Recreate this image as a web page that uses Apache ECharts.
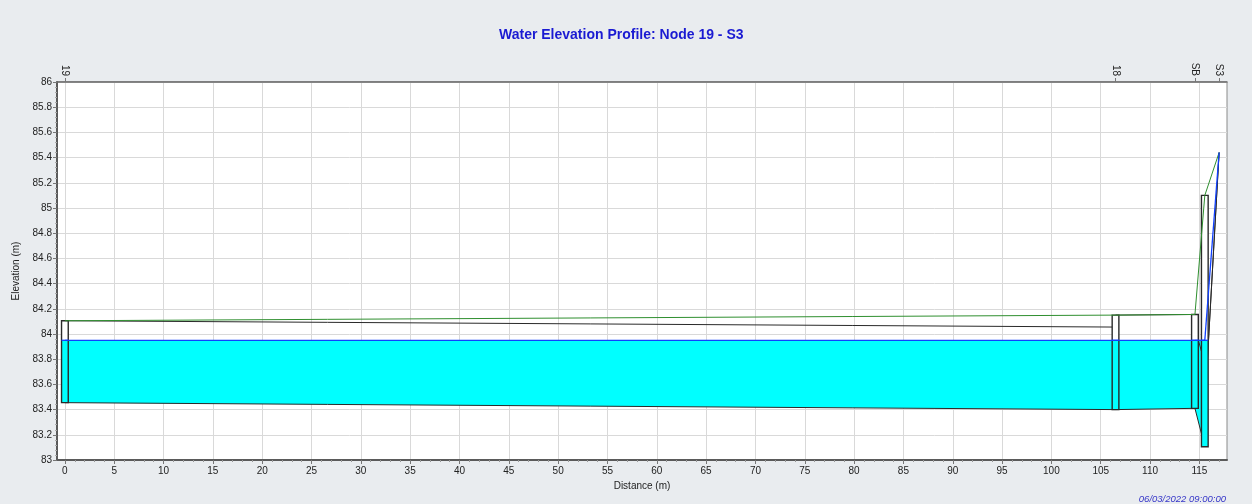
<!DOCTYPE html>
<html>
<head>
<meta charset="utf-8">
<script src="https://cdn.jsdelivr.net/npm/echarts@6/dist/echarts.min.js"></script>
<style>
html, body { margin: 0; padding: 0; background: #e9ecef; }
#chart { width: 1252px; height: 504px; }
</style>
</head>
<body>
<div id="chart"></div>
<script>
// ---------- data ----------
const nodeNames = ['19', '18', 'SB', 'S3'];
const nodeDistance = [0, 106.5, 114.55, 117.0];
const xTicks = [0, 5, 10, 15, 20, 25, 30, 35, 40, 45, 50, 55, 60, 65, 70, 75, 80, 85, 90, 95, 100, 105, 110, 115];

// node boxes (distance, invert, rim, water level)
const boxDistance = [0, 106.5, 114.55, 115.55];
const boxInvert = [83.455, 83.40, 83.41, 83.105];
const boxTop = [84.105, 84.15, 84.155, 85.10];
const boxWater = [83.95, 83.95, 83.95, 83.95];

// links between consecutive boxes / nodes
const linkFrom = [0, 106.5, 114.55, 115.55];
const linkTo = [106.5, 114.55, 115.55, 117.0];
const linkUpInvert = [83.455, 83.40, 83.41, 83.43];
const linkDnInvert = [83.40, 83.41, 83.105, 85.44];
const linkUpCrown = [84.105, 84.15, 84.05, 83.43];
const linkDnCrown = [84.055, 84.155, 83.765, 85.44];
const linkUpWater = [83.95, 83.95, 83.95, 83.95];
const linkDnWater = [83.95, 83.95, 83.95, 85.44];

// ground (rim) line
const groundDistance = [0, 106.5, 114.55, 115.55, 117.0];
const groundElevation = [84.105, 84.15, 84.155, 85.10, 85.44];

// ---------- styles ----------
const FONT = "'Liberation Sans', Arial, sans-serif";
const BOX_HALF = 0.34;
const CYAN = '#00ffff';
const WATER_LINE = '#1040ff';
const EDGE = '#2a2a2a';

const linkData = linkFrom.map((v, i) => [linkFrom[i], linkTo[i], linkUpWater[i], linkDnWater[i], linkUpInvert[i], linkDnInvert[i], linkUpCrown[i], linkDnCrown[i]]);
const boxData = boxDistance.map((v, i) => [boxDistance[i], boxInvert[i], boxTop[i], boxWater[i]]);
const groundData = groundDistance.map((v, i) => [groundDistance[i], groundElevation[i]]);

function renderWater(params, api) {
  const x1 = api.value(0), x2 = api.value(1);
  const uw = api.value(2), dw = api.value(3), ui = api.value(4), di = api.value(5);
  if (!(uw > ui && dw > di)) return null;
  return {
    type: 'polygon',
    shape: { points: [api.coord([x1, uw]), api.coord([x2, dw]), api.coord([x2, di]), api.coord([x1, ui])] },
    style: { fill: CYAN }
  };
}
function renderLinkLines(params, api) {
  const x1 = api.value(0), x2 = api.value(1);
  const ui = api.value(4), di = api.value(5), uc = api.value(6), dc = api.value(7);
  const a = api.coord([x1, ui]), b = api.coord([x2, di]);
  const c = api.coord([x1, uc]), d = api.coord([x2, dc]);
  return {
    type: 'group',
    children: [
      { type: 'line', shape: { x1: a[0], y1: a[1], x2: b[0], y2: b[1] }, style: { stroke: EDGE, lineWidth: 1 } },
      { type: 'line', shape: { x1: c[0], y1: c[1], x2: d[0], y2: d[1] }, style: { stroke: EDGE, lineWidth: 1 } }
    ]
  };
}
function renderWaterLine(params, api) {
  const x1 = api.value(0), x2 = api.value(1);
  const uw = api.value(2), dw = api.value(3);
  const a = api.coord([x1, uw]), b = api.coord([x2, dw]);
  return { type: 'line', shape: { x1: a[0], y1: a[1], x2: b[0], y2: b[1] }, style: { stroke: WATER_LINE, lineWidth: 1.3 } };
}
function renderBox(params, api) {
  const x = api.value(0), inv = api.value(1), top = api.value(2), w = api.value(3);
  const tl = api.coord([x - BOX_HALF, top]);
  const br = api.coord([x + BOX_HALF, inv]);
  const wl = api.coord([x, w]);
  const width = br[0] - tl[0];
  return {
    type: 'group',
    children: [
      { type: 'rect', shape: { x: tl[0], y: tl[1], width: width, height: wl[1] - tl[1] }, style: { fill: '#ffffff' } },
      { type: 'rect', shape: { x: tl[0], y: wl[1], width: width, height: br[1] - wl[1] }, style: { fill: CYAN } },
      { type: 'rect', shape: { x: tl[0], y: tl[1], width: width, height: br[1] - tl[1] }, style: { fill: 'none', stroke: EDGE, lineWidth: 1.4 } },
      { type: 'line', z2: 10, shape: { x1: tl[0], y1: wl[1], x2: br[0], y2: wl[1] }, style: { stroke: WATER_LINE, lineWidth: 1.3 } }
    ]
  };
}

const chart = echarts.init(document.getElementById('chart'), null, { renderer: 'canvas' });
chart.setOption({
  animation: false,
  backgroundColor: '#e9ecef',
  textStyle: { fontFamily: FONT },
  title: [
    {
      text: 'Water Elevation Profile: Node 19 - S3',
      left: 499, top: 28, padding: 0,
      textStyle: { fontFamily: FONT, fontSize: 14, fontWeight: 'bold', color: '#1a1ad2' }
    },
    {
      text: '06/03/2022 09:00:00',
      right: 26, top: 494, padding: 0,
      textStyle: { fontFamily: FONT, fontSize: 9.5, fontWeight: 'normal', fontStyle: 'italic', color: '#3535c8' }
    }
  ],
  grid: {
    left: 57, right: 25, top: 82, bottom: 44,
    show: true, backgroundColor: '#ffffff', borderColor: '#8a8a8a', borderWidth: 1
  },
  xAxis: [
    {
      type: 'value', position: 'bottom', min: -0.8, max: 117.8, splitNumber: 24,
      name: 'Distance (m)', nameLocation: 'middle', nameGap: 15,
      nameTextStyle: { fontFamily: FONT, fontSize: 10, color: '#222' },
      axisLine: { show: true, onZero: false, lineStyle: { color: '#5a5a5a', width: 2 } },
      axisTick: { show: true, customValues: xTicks, length: 4, lineStyle: { color: '#777' } },
      minorTick: { show: true, splitNumber: 5, length: 2, lineStyle: { color: '#999' } },
      axisLabel: { customValues: xTicks, fontFamily: FONT, fontSize: 10, color: '#222', margin: 6 },
      splitLine: { show: true, lineStyle: { color: '#d9d9d9', width: 1 } }
    },
    {
      type: 'value', position: 'top', min: -0.8, max: 117.8,
      axisLine: { show: true, onZero: false, lineStyle: { color: '#6a6a6a', width: 1.5 } },
      axisTick: { show: true, customValues: nodeDistance, length: 4, lineStyle: { color: '#777' } },
      axisLabel: {
        customValues: nodeDistance, rotate: 90, fontFamily: FONT, fontSize: 10, color: '#222', margin: 6,
        formatter: function (v) {
          let best = 0;
          nodeDistance.forEach((d, i) => { if (Math.abs(d - v) < Math.abs(nodeDistance[best] - v)) best = i; });
          return nodeNames[best];
        }
      },
      splitLine: { show: false }
    }
  ],
  yAxis: {
    type: 'value', min: 83, max: 86, interval: 0.2,
    name: 'Elevation (m)', nameLocation: 'middle', nameGap: 31, nameRotate: 90,
    nameTextStyle: { fontFamily: FONT, fontSize: 10, color: '#222' },
    axisLine: { show: true, onZero: false, lineStyle: { color: '#5a5a5a', width: 2 } },
    axisTick: { show: true, length: 4, lineStyle: { color: '#777' } },
    minorTick: { show: true, splitNumber: 5, length: 2, lineStyle: { color: '#aaa' } },
    axisLabel: { fontFamily: FONT, fontSize: 10, color: '#222', margin: 5 },
    splitLine: { show: true, lineStyle: { color: '#d9d9d9', width: 1 } }
  },
  series: [
    { type: 'custom', name: 'water', xAxisIndex: 0, z: 2, renderItem: renderWater, data: linkData, encode: { x: [0, 1], y: [2, 3, 4, 5] } },
    { type: 'custom', name: 'links', xAxisIndex: 0, z: 3, renderItem: renderLinkLines, data: linkData, encode: { x: [0, 1], y: [4, 5, 6, 7] } },
    { type: 'custom', name: 'nodes', xAxisIndex: 0, z: 4, renderItem: renderBox, data: boxData, encode: { x: 0, y: [1, 2, 3] } },
    {
      type: 'line', name: 'ground', xAxisIndex: 0, z: 5, data: groundData,
      symbol: 'none', lineStyle: { color: '#2f8f2f', width: 1 }
    },
    { type: 'custom', name: 'water surface', xAxisIndex: 0, z: 6, renderItem: renderWaterLine, data: linkData, encode: { x: [0, 1], y: [2, 3] } }
  ]
});
</script>
</body>
</html>
